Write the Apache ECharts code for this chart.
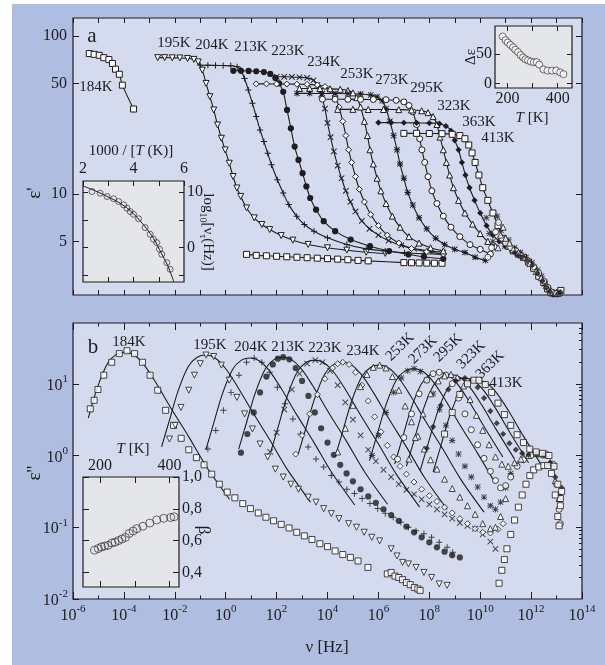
<!DOCTYPE html>
<html>
<head>
<meta charset="UTF-8">
<title>Dielectric loss spectra</title>
<script src="https://cdn.jsdelivr.net/npm/echarts@6/dist/echarts.min.js"></script>
<style>
  html, body { margin: 0; padding: 0; background: #fff; }
  #chart { width: 605px; height: 665px; }
</style>
</head>
<body>
<div id="chart"></div>
<script>
// all spectra are stored as [log10(nu / Hz), log10(value)]
var temps = ['184K', '195K', '204K', '213K', '223K', '234K', '253K', '273K', '295K', '323K', '363K', '413K'];

// ---- panel a : eps' ----
var eps1_184K_low = [[-5.36,1.889],[-5.17,1.884],[-4.97,1.878],[-4.79,1.863],[-4.59,1.851],[-4.45,1.826],[-4.33,1.79],[-4.18,1.758],[-4.06,1.689],[-3.62,1.538]];
var eps1_184K_high = [[0.82,0.618],[1.2,0.612],[1.6,0.609],[2.0,0.606],[2.4,0.603],[2.8,0.6],[3.2,0.597],[3.6,0.594],[4.0,0.591],[4.4,0.588],[4.8,0.584],[5.2,0.58],[5.6,0.577],[7.0,0.566],[7.3,0.565],[7.6,0.564],[7.9,0.563],[8.2,0.562],[8.5,0.562]];
var eps1_195K = [[-2.67,1.863],[-2.4,1.863],[-2.1,1.862],[-1.8,1.861],[-1.5,1.858],[-1.25,1.852],[-1.08,1.836],[-0.92,1.784],[-0.77,1.70],[-0.62,1.616],[-0.47,1.532],[-0.32,1.437],[-0.17,1.353],[-0.02,1.279],[0.14,1.195],[0.29,1.111],[0.44,1.038],[0.59,0.985],[0.82,0.912],[1.12,0.849],[1.42,0.807],[1.73,0.775],[2.18,0.737],[2.64,0.708],[3.24,0.681],[4.0,0.66],[4.76,0.645],[5.52,0.632],[6.27,0.624]];
var eps1_204K = [[-1.0,1.815],[-0.7,1.815],[-0.4,1.814],[-0.1,1.813],[0.2,1.812],[0.45,1.805],[0.59,1.784],[0.74,1.731],[0.89,1.658],[1.05,1.574],[1.2,1.49],[1.35,1.405],[1.5,1.332],[1.65,1.258],[1.8,1.185],[2.03,1.09],[2.26,1.006],[2.48,0.933],[2.79,0.859],[3.09,0.807],[3.47,0.765],[4.0,0.723],[4.76,0.681],[5.52,0.653],[6.27,0.639],[7.03,0.628],[7.79,0.622],[8.55,0.618]];
var eps1_213K = [[0.3,1.78],[0.6,1.78],[0.9,1.779],[1.2,1.777],[1.5,1.772],[1.75,1.76],[1.95,1.735],[2.1,1.7],[2.26,1.647],[2.41,1.532],[2.56,1.416],[2.71,1.3],[2.86,1.216],[3.02,1.132],[3.17,1.048],[3.32,0.975],[3.55,0.901],[3.85,0.828],[4.3,0.765],[4.91,0.712],[5.67,0.67],[6.42,0.639],[7.18,0.618],[7.79,0.603],[8.55,0.59]];
var eps1_223K = [[2.0,1.742],[2.3,1.742],[2.6,1.741],[2.9,1.739],[3.2,1.735],[3.45,1.72],[3.6,1.69],[3.75,1.63],[3.9,1.54],[4.0,1.45],[4.12,1.36],[4.25,1.27],[4.4,1.18],[4.55,1.1],[4.72,1.02],[4.9,0.95],[5.1,0.89],[5.35,0.83],[5.65,0.78],[6.0,0.74],[6.4,0.705],[6.9,0.675],[7.4,0.655],[8.0,0.64],[8.55,0.63]];
var eps1_234K = [[1.2,1.697],[1.6,1.697],[2.0,1.696],[2.4,1.696],[2.8,1.695],[3.2,1.694],[3.6,1.69],[3.9,1.68],[4.1,1.66],[4.3,1.62],[4.45,1.55],[4.6,1.46],[4.72,1.37],[4.83,1.28],[4.95,1.2],[5.1,1.11],[5.25,1.03],[5.45,0.95],[5.7,0.87],[6.0,0.8],[6.35,0.74],[6.8,0.69],[7.3,0.655],[7.9,0.635],[8.55,0.62]];
var eps1_253K = [[2.9,1.668],[3.3,1.668],[3.7,1.667],[4.1,1.666],[4.5,1.663],[4.8,1.655],[5.0,1.64],[5.15,1.61],[5.3,1.55],[5.45,1.46],[5.57,1.37],[5.67,1.28],[5.8,1.19],[5.95,1.1],[6.1,1.02],[6.3,0.94],[6.55,0.86],[6.85,0.79],[7.2,0.73],[7.6,0.69],[8.05,0.66],[8.55,0.64]];
var eps1_273K = [[2.8,1.637],[3.3,1.637],[3.8,1.636],[4.3,1.636],[4.8,1.635],[5.3,1.633],[5.7,1.627],[5.95,1.615],[6.15,1.59],[6.3,1.54],[6.45,1.46],[6.6,1.37],[6.73,1.28],[6.85,1.19],[7.0,1.1],[7.15,1.01],[7.35,0.93],[7.6,0.85],[7.9,0.78],[8.25,0.72],[8.6,0.68],[9.0,0.65],[9.4,0.63],[9.8,0.6],[10.2,0.58]];
var eps1_295K = [[3.8,1.6],[4.3,1.6],[4.8,1.599],[5.3,1.599],[5.8,1.598],[6.3,1.597],[6.7,1.593],[7.0,1.583],[7.2,1.56],[7.35,1.52],[7.5,1.44],[7.62,1.35],[7.71,1.28],[7.82,1.2],[7.95,1.11],[8.1,1.02],[8.3,0.94],[8.55,0.86],[8.85,0.79],[9.2,0.73],[9.6,0.68],[10.0,0.65],[10.4,0.62]];
var eps1_323K = [[4.4,1.536],[5.0,1.536],[5.6,1.535],[6.2,1.535],[6.8,1.534],[7.3,1.532],[7.7,1.527],[7.95,1.515],[8.15,1.49],[8.3,1.44],[8.42,1.36],[8.55,1.28],[8.67,1.2],[8.8,1.12],[8.95,1.04],[9.15,0.96],[9.4,0.88],[9.7,0.81],[10.0,0.75],[10.3,0.7],[10.6,0.67]];
var eps1_363K = [[6.0,1.452],[6.5,1.452],[7.0,1.451],[7.5,1.45],[8.0,1.449],[8.4,1.445],[8.65,1.43],[8.85,1.4],[9.0,1.34],[9.15,1.28],[9.28,1.2],[9.42,1.12],[9.58,1.04],[9.78,0.96],[10.0,0.88],[10.25,0.8],[10.5,0.74],[10.75,0.7],[11.0,0.67],[11.25,0.64]];
var eps1_413K = [[7.0,1.384],[7.5,1.384],[8.0,1.383],[8.5,1.382],[8.9,1.378],[9.2,1.37],[9.4,1.35],[9.55,1.31],[9.68,1.26],[9.8,1.2],[9.95,1.12],[10.1,1.04],[10.3,0.96],[10.5,0.88],[10.7,0.8],[10.9,0.72],[11.1,0.67],[11.3,0.64],[11.5,0.62],[11.7,0.6],[11.9,0.57],[12.1,0.53],[12.3,0.48],[12.5,0.44],[12.65,0.4],[12.8,0.375],[12.95,0.37],[13.1,0.375],[13.17,0.39]];
// far-infrared points of the warmer runs (dense cluster near 10^11 Hz)
var eps1_273K_thz = [[10.24,0.85],[10.36,0.75],[10.5,0.7],[10.67,0.86],[10.82,0.77],[10.97,0.67],[11.12,0.71],[11.35,0.66],[11.58,0.63],[11.8,0.6],[12.03,0.565],[12.26,0.52],[12.41,0.48],[12.56,0.43],[12.71,0.39],[12.86,0.365],[13.09,0.375]];
var eps1_295K_thz = [[10.3,0.6],[10.45,0.66],[10.6,0.76],[10.72,0.82],[10.85,0.72],[11.0,0.69],[11.2,0.66],[11.4,0.64],[11.6,0.61],[11.85,0.58],[12.1,0.54],[12.3,0.5],[12.5,0.45],[12.65,0.41],[12.8,0.38],[13.0,0.37]];
var eps1_323K_thz = [[10.7,0.66],[10.8,0.74],[10.9,0.79],[11.0,0.72],[11.15,0.69],[11.3,0.65],[11.5,0.63],[11.7,0.6],[11.95,0.56],[12.2,0.51],[12.4,0.47],[12.6,0.42],[12.75,0.38],[12.9,0.36],[13.05,0.37]];
var eps1_363K_thz = [[11.35,0.63],[11.5,0.61],[11.65,0.6],[11.85,0.58],[12.05,0.55],[12.25,0.5],[12.45,0.45],[12.6,0.41],[12.75,0.38],[12.9,0.36],[13.05,0.365],[13.15,0.38]];

// ---- panel b : eps'' (markers) ----
var eps2_184K = [[-5.32,0.65],[-5.17,0.77],[-5.02,0.92],[-4.79,1.12],[-4.48,1.30],[-4.18,1.42],[-3.88,1.46],[-3.58,1.42],[-3.27,1.30],[-2.97,1.12],[-2.67,0.91],[-2.36,0.63],[-2.05,0.42],[-1.75,0.24],[-1.45,0.08],[-1.15,-0.03],[-0.85,-0.13],[-0.55,-0.26],[-0.25,-0.40],[0.06,-0.51],[0.36,-0.59],[0.67,-0.67],[0.97,-0.74],[1.28,-0.80],[1.58,-0.86],[1.88,-0.91],[2.18,-0.96],[2.49,-1.01],[2.79,-1.07],[3.09,-1.12],[3.39,-1.17],[3.7,-1.23],[4.0,-1.27],[4.3,-1.33],[4.6,-1.38],[4.9,-1.42],[5.2,-1.47],[5.59,-1.56],[6.35,-1.65],[6.5,-1.63],[6.65,-1.68],[6.8,-1.70],[6.95,-1.73],[7.1,-1.77],[7.25,-1.80],[7.41,-1.84],[7.55,-1.86],[7.64,-1.88]];
var eps2_184K_thz = [[10.74,-1.78],[10.85,-1.6],[10.95,-1.45],[11.05,-1.3],[11.2,-1.1],[11.35,-0.9],[11.5,-0.72],[11.65,-0.55],[11.8,-0.4],[11.95,-0.28],[12.1,-0.2],[12.3,-0.16],[12.5,-0.14],[12.65,-0.14],[12.8,-0.25],[12.95,-0.55],[13.05,-0.85],[13.1,-0.98],[13.15,-0.7]];
var eps2_195K = [[-2.21,0.23],[-1.98,0.42],[-1.76,0.67],[-1.45,0.91],[-1.23,1.12],[-1.0,1.28],[-0.77,1.40],[-0.47,1.38],[-0.17,1.26],[0.14,1.05],[0.44,0.81],[0.74,0.58],[1.05,0.37],[1.35,0.16],[1.65,-0.02],[1.95,-0.19],[2.26,-0.30],[2.56,-0.40],[2.86,-0.47],[3.24,-0.58],[3.55,-0.65],[3.85,-0.74],[4.15,-0.81],[4.45,-0.88],[4.83,-0.95],[5.14,-1.0],[5.44,-1.07],[5.74,-1.14],[6.05,-1.19],[6.5,-1.30],[6.73,-1.40],[6.95,-1.49],[7.18,-1.51],[7.48,-1.56],[7.79,-1.63],[8.09,-1.70],[8.39,-1.79],[8.7,-1.81]];
var eps2_204K = [[-0.7,0.09],[-0.39,0.35],[-0.09,0.63],[0.21,0.88],[0.52,1.12],[0.82,1.30],[1.12,1.36],[1.42,1.30],[1.73,1.16],[2.03,0.95],[2.33,0.72],[2.64,0.51],[2.94,0.30],[3.24,0.12],[3.55,-0.05],[3.85,-0.16],[4.15,-0.28],[4.45,-0.37],[4.76,-0.47],[5.06,-0.53],[5.36,-0.60],[5.67,-0.67],[5.97,-0.74],[6.27,-0.81],[6.58,-0.86],[6.88,-0.93],[7.18,-1.0],[7.48,-1.05],[7.79,-1.09],[8.09,-1.14],[8.39,-1.21],[8.7,-1.28],[8.92,-1.35]];
var eps2_213K = [[0.6,0.04],[0.85,0.3],[1.1,0.6],[1.35,0.88],[1.6,1.1],[1.85,1.27],[2.05,1.35],[2.26,1.37],[2.5,1.34],[2.75,1.22],[3.0,1.04],[3.25,0.83],[3.5,0.6],[3.75,0.38],[4.0,0.18],[4.25,0.01],[4.5,-0.13],[4.75,-0.25],[5.0,-0.36],[5.3,-0.47],[5.6,-0.57],[5.9,-0.66],[6.2,-0.75],[6.5,-0.83],[6.8,-0.91],[7.1,-0.99],[7.4,-1.07],[7.7,-1.14],[8.0,-1.21],[8.3,-1.28],[8.6,-1.34],[8.9,-1.39],[9.2,-1.42]];
var eps2_223K = [[1.75,0.05],[2.0,0.32],[2.3,0.64],[2.6,0.92],[2.9,1.14],[3.2,1.28],[3.52,1.33],[3.8,1.3],[4.1,1.18],[4.4,0.98],[4.7,0.74],[5.0,0.5],[5.3,0.28],[5.6,0.08],[5.9,-0.08],[6.2,-0.2],[6.5,-0.3],[6.8,-0.4],[7.1,-0.48],[7.4,-0.54],[7.7,-0.61],[8.0,-0.68],[8.3,-0.75],[8.6,-0.82],[8.9,-0.88],[9.2,-0.94],[9.5,-0.98],[9.8,-1.02],[10.1,-1.1],[10.4,-1.2],[10.6,-1.3]];
var eps2_234K = [[2.75,0.02],[3.0,0.28],[3.3,0.58],[3.6,0.85],[3.9,1.07],[4.2,1.22],[4.4,1.28],[4.6,1.3],[4.85,1.27],[5.1,1.16],[5.35,0.98],[5.6,0.76],[5.85,0.54],[6.1,0.33],[6.35,0.14],[6.6,-0.02],[6.85,-0.15],[7.1,-0.26],[7.4,-0.37],[7.7,-0.47],[8.0,-0.56],[8.3,-0.64],[8.6,-0.72],[8.9,-0.8],[9.2,-0.88],[9.5,-0.95],[9.8,-1.02],[10.1,-1.07],[10.4,-1.08],[10.7,-1.03],[10.9,-0.95]];
var eps2_253K = [[4.4,0.05],[4.7,0.38],[5.0,0.7],[5.3,0.96],[5.55,1.13],[5.8,1.23],[6.05,1.26],[6.3,1.22],[6.55,1.1],[6.8,0.91],[7.05,0.69],[7.3,0.47],[7.55,0.27],[7.8,0.09],[8.05,-0.06],[8.3,-0.19],[8.6,-0.33],[8.9,-0.46],[9.2,-0.58],[9.5,-0.7],[9.8,-0.82],[10.1,-0.95],[10.4,-1.02],[10.6,-1.0],[10.8,-0.85],[11.0,-0.6]];
var eps2_273K = [[5.75,0.0],[6.0,0.28],[6.3,0.6],[6.6,0.88],[6.9,1.08],[7.15,1.18],[7.4,1.21],[7.65,1.17],[7.9,1.05],[8.15,0.86],[8.4,0.64],[8.65,0.42],[8.9,0.21],[9.15,0.02],[9.4,-0.15],[9.65,-0.3],[9.9,-0.44],[10.15,-0.58],[10.4,-0.7],[10.6,-0.75],[10.8,-0.65],[11.0,-0.45],[11.2,-0.25],[11.45,-0.12]];
var eps2_295K = [[6.75,-0.05],[7.0,0.25],[7.3,0.58],[7.6,0.86],[7.9,1.05],[8.15,1.14],[8.39,1.16],[8.65,1.12],[8.9,1.0],[9.15,0.8],[9.4,0.58],[9.65,0.36],[9.9,0.15],[10.15,-0.04],[10.4,-0.22],[10.6,-0.35],[10.8,-0.45],[11.0,-0.42],[11.2,-0.3],[11.45,-0.15],[11.7,-0.06],[12.0,0.0],[12.3,0.02],[12.6,0.02],[12.85,-0.12],[13.0,-0.4],[13.1,-0.75],[13.15,-0.95]];
var eps2_323K = [[7.2,-0.05],[7.45,0.25],[7.75,0.58],[8.05,0.86],[8.35,1.04],[8.6,1.11],[8.85,1.13],[9.1,1.09],[9.35,0.97],[9.6,0.78],[9.85,0.56],[10.1,0.35],[10.35,0.15],[10.6,-0.02],[10.85,-0.12],[11.1,-0.15],[11.35,-0.1],[11.6,-0.05],[11.9,0.0],[12.2,0.03],[12.5,0.01],[12.75,-0.1],[12.95,-0.35],[13.1,-0.6]];
var eps2_363K = [[7.9,0.1],[8.15,0.4],[8.45,0.7],[8.75,0.92],[9.05,1.04],[9.4,1.08],[9.65,1.05],[9.9,0.95],[10.15,0.8],[10.4,0.62],[10.65,0.45],[10.9,0.3],[11.15,0.17],[11.4,0.08],[11.65,0.03],[11.9,0.01],[12.2,0.02],[12.5,0.0],[12.75,-0.1],[12.95,-0.3],[13.1,-0.55],[13.2,-0.45]];
var eps2_413K = [[8.6,0.3],[8.9,0.6],[9.2,0.85],[9.5,1.0],[9.75,1.05],[9.95,1.05],[10.2,0.99],[10.45,0.88],[10.7,0.73],[10.95,0.57],[11.2,0.42],[11.45,0.29],[11.7,0.18],[11.95,0.09],[12.2,0.05],[12.45,0.03],[12.7,0.0],[12.9,-0.15],[13.05,-0.4],[13.15,-0.6],[13.2,-0.5]];

// ---- panel b : eps'' fit curves ----
var fit2_184K = [[-5.4,0.52],[-5.05,0.94],[-4.65,1.28],[-4.3,1.41],[-3.95,1.44],[-3.6,1.40],[-3.2,1.26],[-2.75,1.02],[-2.15,0.66],[-1.45,0.26],[-0.75,-0.16],[0.15,-0.61]];
var fit2_195K = [[-2.52,0.12],[-2.22,0.48],[-1.87,0.9],[-1.47,1.24],[-1.12,1.37],[-0.77,1.40],[-0.42,1.36],[-0.02,1.22],[0.43,0.98],[1.03,0.62],[1.73,0.22],[2.43,-0.2],[3.33,-0.65]];
var fit2_204K = [[-0.78,0.08],[-0.48,0.44],[-0.13,0.86],[0.27,1.2],[0.62,1.33],[0.97,1.36],[1.32,1.32],[1.72,1.18],[2.17,0.94],[2.77,0.58],[3.47,0.18],[4.17,-0.24],[5.07,-0.69]];
var fit2_213K = [[0.51,0.09],[0.81,0.45],[1.16,0.87],[1.56,1.21],[1.91,1.34],[2.26,1.37],[2.61,1.33],[3.01,1.19],[3.46,0.95],[4.06,0.59],[4.76,0.19],[5.46,-0.23],[6.36,-0.68]];
var fit2_223K = [[1.77,0.05],[2.07,0.41],[2.42,0.83],[2.82,1.17],[3.17,1.3],[3.52,1.33],[3.87,1.29],[4.27,1.15],[4.72,0.91],[5.32,0.55],[6.02,0.15],[6.72,-0.27],[7.62,-0.72]];
var fit2_234K = [[2.85,0.02],[3.15,0.38],[3.5,0.8],[3.9,1.14],[4.25,1.27],[4.6,1.3],[4.95,1.26],[5.35,1.12],[5.8,0.88],[6.4,0.52],[7.1,0.12],[7.8,-0.3],[8.7,-0.75]];
var fit2_253K = [[4.3,-0.02],[4.6,0.34],[4.95,0.76],[5.35,1.1],[5.7,1.23],[6.05,1.26],[6.4,1.22],[6.8,1.08],[7.25,0.84],[7.85,0.48],[8.55,0.08],[9.25,-0.34],[10.15,-0.79]];
var fit2_273K = [[5.65,-0.07],[5.95,0.29],[6.3,0.71],[6.7,1.05],[7.05,1.18],[7.4,1.21],[7.75,1.17],[8.15,1.03],[8.6,0.79],[9.2,0.43],[9.9,0.03],[10.6,-0.39]];
var fit2_295K = [[6.64,-0.12],[6.94,0.24],[7.29,0.66],[7.69,1.0],[8.04,1.13],[8.39,1.16],[8.74,1.12],[9.14,0.98],[9.59,0.74],[10.19,0.38],[10.89,-0.02]];
var fit2_323K = [[7.1,-0.15],[7.4,0.21],[7.75,0.63],[8.15,0.97],[8.5,1.1],[8.85,1.13],[9.2,1.09],[9.6,0.95],[10.05,0.71],[10.65,0.35],[11.35,-0.05]];
var fit2_363K = [[7.65,-0.2],[7.95,0.16],[8.3,0.58],[8.7,0.92],[9.05,1.05],[9.4,1.08],[9.75,1.04],[10.15,0.9],[10.6,0.66],[11.2,0.3],[11.9,-0.1]];
var fit2_413K = [[8.15,-0.23],[8.45,0.13],[8.8,0.55],[9.2,0.89],[9.55,1.02],[9.9,1.05],[10.25,1.01],[10.65,0.87],[11.1,0.63],[11.7,0.27],[12.4,-0.13]];

// ---- insets ----
var invT = [2.36, 2.68, 2.95, 3.21, 3.41, 3.61, 3.74, 3.87, 4.0, 4.2, 4.46, 4.66, 4.79, 4.92, 5.03, 5.12, 5.32, 5.45];
var logNuTau = [10.1, 9.8, 9.2, 8.8, 8.3, 7.7, 7.1, 6.5, 6.0, 5.2, 3.6, 2.4, 1.5, 0.9, -0.3, -1.2, -2.7, -3.9];
var vftFit = [[2.0,11.1],[2.5,10.2],[3.0,9.1],[3.5,7.9],[4.0,6.1],[4.5,3.5],[4.8,1.6],[5.1,-1.0],[5.35,-3.2],[5.6,-6.2]];

var tDelta = [181, 192, 201, 211, 222, 231, 242, 252, 262, 271, 282, 293, 305, 316, 326, 343, 359, 377, 394, 410, 423];
var deltaEps = [79, 73, 69, 65, 61, 57, 53, 48, 44, 41, 39, 37, 36, 36, 32, 24, 22, 22, 22, 19, 16];

var tBeta = [184, 195, 204, 213, 223, 234, 243, 253, 263, 273, 284, 295, 306, 323, 343, 363, 383, 403, 413];
var beta = [0.54, 0.55, 0.56, 0.565, 0.57, 0.585, 0.59, 0.60, 0.61, 0.62, 0.645, 0.66, 0.675, 0.69, 0.71, 0.73, 0.74, 0.745, 0.75];

// ---- styling ----
var FONT = '"Liberation Serif", "DejaVu Serif", serif';
var INK = '#1e1c1e';
var PLUS = 'path://M4.2,0H5.8V4.2H10V5.8H5.8V10H4.2V5.8H0V4.2H4.2Z';
var CROSS = 'path://M1.1,0L5,3.9L8.9,0L10,1.1L6.1,5L10,8.9L8.9,10L5,6.1L1.1,10L0,8.9L3.9,5L0,1.1Z';
var STAR = 'path://M4.3,0H5.7V10H4.3Z M0,4.3H10V5.7H0Z M1.2,0.2L9.8,8.8L8.8,9.8L0.2,1.2Z M8.8,0.2L9.8,1.2L1.2,9.8L0.2,8.8Z';

// marker per temperature: [symbol, open?, rotate]
var marks = {
  '184K': ['rect', true, 0], '195K': ['triangle', true, 180], '204K': [PLUS, false, 0],
  '213K': ['circle', false, 0], '223K': [CROSS, false, 0], '234K': ['diamond', true, 0],
  '253K': ['triangle', true, 0], '273K': [STAR, false, 0], '295K': ['circle', true, 0],
  '323K': ['triangle', true, 0], '363K': ['diamond', false, 0], '413K': ['rect', true, 0]
};

function zip(a, b) { return a.map(function (v, i) { return [v, b[i]]; }); }
function range(a, b, step) { var r = []; for (var v = a; v <= b + 1e-9; v += step) r.push(v); return r; }
function sup(v) { return '{b|10}{s|' + v + '}'; }

var labelBase = { color: INK, fontFamily: FONT, fontSize: 16 };
var richSup = {
  b: { fontSize: 16, fontFamily: FONT, color: INK, lineHeight: 20, verticalAlign: 'bottom' },
  s: { fontSize: 11, fontFamily: FONT, color: INK, lineHeight: 11, verticalAlign: 'top' }
};

function axis(grid, pos, min, max, ticks, len, labels, fmt, margin) {
  var a = {
    type: 'value', gridIndex: grid, position: pos, min: min, max: max,
    axisLine: { show: false, onZero: false },
    axisTick: { show: true, inside: true, length: len, customValues: ticks, lineStyle: { color: INK, width: 1 } },
    axisLabel: { show: false },
    splitLine: { show: false }
  };
  if (labels) {
    a.axisLabel = Object.assign({ show: true, customValues: labels, formatter: fmt, margin: margin || 6, rich: richSup }, labelBase);
  }
  return a;
}

var decEven = range(-6, 14, 2), decOdd = range(-5, 13, 2);
var epsTicks = [Math.log10(5), 1, Math.log10(50), 2];
var lossMinor = [];
[-2, -1, 0, 1].forEach(function (n) { for (var k = 2; k <= 9; k++) { var v = n + Math.log10(k); if (v < 1.84) lossMinor.push(v); } });

var xAxes = [
  axis(0, 'bottom', -6, 14, decEven, 5),
  axis(0, 'bottom', -6, 14, decOdd, 5),
  axis(0, 'top', -6, 14, decEven, 5),
  axis(0, 'top', -6, 14, decOdd, 5),
  axis(1, 'bottom', -6, 14, decEven, 7, decEven, sup, 5),
  axis(1, 'bottom', -6, 14, decOdd, 3.5),
  axis(1, 'top', -6, 14, decEven, 7),
  axis(1, 'top', -6, 14, decOdd, 3.5),
  axis(2, 'top', 2, 6, [2, 3, 4, 5, 6], 5, [2, 4, 6], '{value}', 4),
  axis(2, 'bottom', 2, 6, [3, 4, 5], 5),
  axis(3, 'bottom', 150, 457, [200, 300, 400], 5, [200, 400], '{value}', 3),
  axis(3, 'top', 150, 457, [200, 300, 400], 5),
  axis(4, 'top', 151, 427, [200, 300, 400], 6, [200, 400], '{value}', 3),
  axis(4, 'bottom', 151, 427, [200, 300, 400], 6)
];
var yAxes = [
  axis(0, 'left', 0.361, 2.114, epsTicks, 6, epsTicks, function (v) { return String(Math.round(Math.pow(10, v))); }, 6),
  axis(0, 'right', 0.361, 2.114, epsTicks, 6),
  axis(1, 'left', -2, 1.847, [-2, -1, 0, 1], 6, [-2, -1, 0, 1], sup, 5),
  axis(1, 'right', -2, 1.847, [-1, 0, 1], 6),
  axis(1, 'right', -2, 1.847, lossMinor, 3),
  axis(2, 'left', -6.2, 12, [-5, 0, 5, 10], 5),
  axis(2, 'right', -6.2, 12, [-5, 0, 5, 10], 5, [0, 10], '{value}', 3),
  axis(3, 'left', -7.2, 96.7, [0, 50], 5, [0, 50], '{value}', 3),
  axis(3, 'right', -7.2, 96.7, [0, 50], 5),
  axis(4, 'left', 0.308, 1.0, [0.4, 0.6, 0.8, 1.0], 6),
  axis(4, 'right', 0.308, 1.0, [0.4, 0.6, 0.8, 1.0], 6, [0.4, 0.6, 0.8, 1.0], function (v) { return v.toFixed(1).replace('.', ','); }, 3)
];
// inset axes sit above the main panel
for (var i = 8; i < xAxes.length; i++) xAxes[i].z = 8;
for (var j = 5; j < yAxes.length; j++) yAxes[j].z = 8;

function markerStyle(t) {
  var m = marks[t];
  return {
    symbol: m[0], symbolRotate: m[2], symbolSize: m[1] ? 6 : 6.2,
    itemStyle: m[1] ? { color: '#ffffff', borderColor: INK, borderWidth: 1 } : { color: INK, borderWidth: 0 }
  };
}

var series = [];
function addLine(data, xi, yi, t, withMarks) {
  var s = {
    type: 'line', data: data, xAxisIndex: xi, yAxisIndex: yi, smooth: 0.3,
    showSymbol: !!withMarks, showAllSymbol: true, z: 3, animation: false, silent: true,
    lineStyle: { color: INK, width: 1.1 }
  };
  if (withMarks) Object.assign(s, markerStyle(t)); else s.symbol = 'none';
  series.push(s);
}
function addScatter(data, xi, yi, t) {
  series.push(Object.assign({ type: 'scatter', data: data, xAxisIndex: xi, yAxisIndex: yi, z: 4, animation: false, silent: true }, markerStyle(t)));
}

// panel a
addLine(eps1_184K_low, 0, 0, '184K', true);
addLine(eps1_184K_high, 0, 0, '184K', true);
var eps1 = { '195K': eps1_195K, '204K': eps1_204K, '213K': eps1_213K, '223K': eps1_223K, '234K': eps1_234K, '253K': eps1_253K,
  '273K': eps1_273K, '295K': eps1_295K, '323K': eps1_323K, '363K': eps1_363K, '413K': eps1_413K };
Object.keys(eps1).forEach(function (t) { addLine(eps1[t], 0, 0, t, true); });
addScatter(eps1_273K_thz, 0, 0, '273K');
addScatter(eps1_295K_thz, 0, 0, '295K');
addScatter(eps1_323K_thz, 0, 0, '323K');
addScatter(eps1_363K_thz, 0, 0, '363K');

// panel b
var eps2 = { '184K': eps2_184K, '195K': eps2_195K, '204K': eps2_204K, '213K': eps2_213K, '223K': eps2_223K, '234K': eps2_234K,
  '253K': eps2_253K, '273K': eps2_273K, '295K': eps2_295K, '323K': eps2_323K, '363K': eps2_363K, '413K': eps2_413K };
var fit2 = { '184K': fit2_184K, '195K': fit2_195K, '204K': fit2_204K, '213K': fit2_213K, '223K': fit2_223K, '234K': fit2_234K,
  '253K': fit2_253K, '273K': fit2_273K, '295K': fit2_295K, '323K': fit2_323K, '363K': fit2_363K, '413K': fit2_413K };
temps.forEach(function (t) { addLine(fit2[t], 4, 2, t, false); });
temps.forEach(function (t) { addScatter(eps2[t], 4, 2, t); });
addScatter(eps2_184K_thz, 4, 2, '184K');

// insets
series.push({ type: 'line', data: vftFit, xAxisIndex: 8, yAxisIndex: 5, smooth: 0.4, symbol: 'none', z: 9, animation: false,
  lineStyle: { color: INK, width: 1 } });
series.push({ type: 'scatter', data: zip(invT, logNuTau), xAxisIndex: 8, yAxisIndex: 5, symbol: 'circle', symbolSize: 6, z: 10,
  animation: false, itemStyle: { color: 'rgba(0,0,0,0)', borderColor: INK, borderWidth: 0.8 } });
series.push({ type: 'scatter', data: zip(tDelta, deltaEps), xAxisIndex: 10, yAxisIndex: 7, symbol: 'circle', symbolSize: 7, z: 10,
  animation: false, itemStyle: { color: '#ffffff', borderColor: INK, borderWidth: 0.8 } });
series.push({ type: 'scatter', data: zip(tBeta, beta), xAxisIndex: 12, yAxisIndex: 9, symbol: 'circle', symbolSize: 8, z: 10,
  animation: false, itemStyle: { color: 'rgba(0,0,0,0)', borderColor: INK, borderWidth: 0.8 } });

// ---- text placed on the figure ----
function txt(s, x, y, size, rot, extra) {
  return {
    type: 'text', x: x, y: y, rotation: rot || 0, z: 20, silent: true,
    style: Object.assign({ text: s, fontFamily: FONT, fontSize: size, fill: INK, textAlign: 'center', textVerticalAlign: 'middle' }, extra || {})
  };
}
var topLabelPos = [[96, 87], [174, 43], [212, 45], [251, 47], [288, 51], [324, 62], [357, 74], [392, 80], [427, 88], [454, 106], [479, 122], [498, 138]];
var botLabelPos = [[129, 342, 0], [210, 345, 0], [251, 347, 0], [288, 347, 0], [325, 348, 0], [363, 351, 0], [400, 347, 0.78], [423, 350, 0.78], [448, 348, 0.78], [471, 355, 0.78], [490, 365, 0.78], [506, 383, 0]];
var italic = { T: { fontStyle: 'italic', fontFamily: FONT, fontSize: 15, fill: INK }, n: { fontFamily: FONT, fontSize: 15, fill: INK },
  sub: { fontFamily: FONT, fontSize: 10, fill: INK, verticalAlign: 'bottom', lineHeight: 20 } };

var graphics = [
  { type: 'rect', shape: { x: 0, y: 0, width: 12, height: 665 }, style: { fill: '#ffffff' }, z: 30, silent: true },
  { type: 'rect', shape: { x: 0, y: 0, width: 605, height: 4 }, style: { fill: '#ffffff' }, z: 30, silent: true },
  txt('a', 92, 36, 21), txt('b', 93, 347, 21),
  txt("ε'", 35, 193, 19, Math.PI / 2), txt("ε''", 35, 473, 19, Math.PI / 2),
  txt('ν [Hz]', 327, 648, 17),
  txt('{n|1000 / [}{T|T}{n| (K)]}', 131, 151, 15, 0, { rich: italic }),
  txt('{n|log}{sub|10}{n|[ν}{sub|τ}{n|(Hz)]}', 208, 232, 15, -Math.PI / 2, { rich: italic }),
  txt('Δε', 471, 57, 15, Math.PI / 2),
  txt('{T|T}{n| [K]}', 532, 118, 15, 0, { rich: italic }),
  txt('{T|T}{n| [K]}', 133, 449, 15, 0, { rich: italic }),
  txt('β', 203, 530, 17, -Math.PI / 2)
];
temps.forEach(function (t, i) {
  graphics.push(txt(t, topLabelPos[i][0], topLabelPos[i][1], 15));
  graphics.push(txt(t, botLabelPos[i][0], botLabelPos[i][1], 15, botLabelPos[i][2]));
});

var chart = echarts.init(document.getElementById('chart'), null, { renderer: 'canvas' });
chart.setOption({
  backgroundColor: '#afbde1',
  animation: false,
  grid: [
    { left: 73, top: 18, width: 509, height: 277, show: true, backgroundColor: '#d4dbef', borderColor: INK, borderWidth: 1.2 },
    { left: 73, top: 323, width: 509, height: 276, show: true, backgroundColor: '#d4dbef', borderColor: INK, borderWidth: 1.2 },
    { left: 83, top: 181, width: 101, height: 101, show: true, backgroundColor: '#e5e6e9', borderColor: INK, borderWidth: 1.2, z: 7 },
    { left: 495, top: 26, width: 77, height: 62, show: true, backgroundColor: '#e5e6e9', borderColor: INK, borderWidth: 1.2, z: 7 },
    { left: 83, top: 477, width: 96, height: 110, show: true, backgroundColor: '#e5e6e9', borderColor: INK, borderWidth: 1.2, z: 7 }
  ],
  xAxis: xAxes,
  yAxis: yAxes,
  series: series,
  graphic: graphics
});
</script>
</body>
</html>
